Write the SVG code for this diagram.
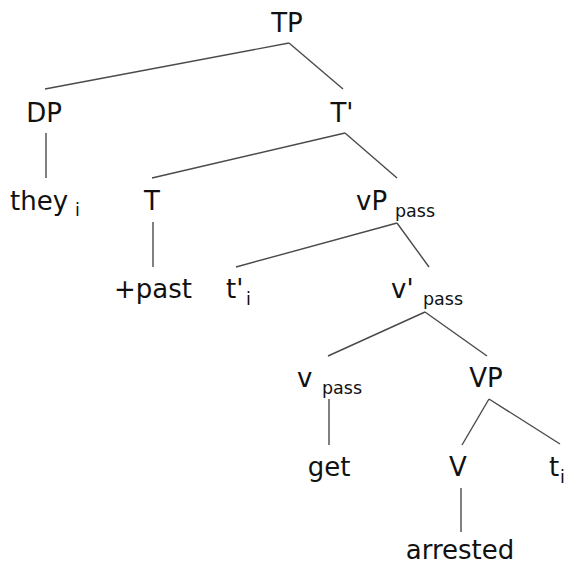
<svg xmlns="http://www.w3.org/2000/svg" width="567" height="566" viewBox="0 0 567 566">
<style>
text{font-family:"DejaVu Sans",Verdana,sans-serif;font-size:26px;fill:#111}
text.m{text-anchor:middle}
text.s{font-size:17.5px}
#edges line{stroke:#4a4a4a;stroke-width:1.4}
</style>
<rect width="567" height="566" fill="#fff"/>
<g id="edges">
<line x1="289" y1="43" x2="45" y2="89"/>
<line x1="289" y1="43" x2="343" y2="89"/>
<line x1="46" y1="133" x2="46" y2="178"/>
<line x1="345" y1="133" x2="152" y2="178"/>
<line x1="345" y1="133" x2="397" y2="178"/>
<line x1="153" y1="222" x2="153" y2="267"/>
<line x1="397" y1="223" x2="236" y2="267"/>
<line x1="397" y1="223" x2="429" y2="267"/>
<line x1="425" y1="312" x2="328" y2="356"/>
<line x1="425" y1="312" x2="487" y2="356"/>
<line x1="329" y1="399" x2="329" y2="445"/>
<line x1="489" y1="399" x2="462" y2="445"/>
<line x1="489" y1="399" x2="560" y2="444"/>
<line x1="461" y1="488" x2="461" y2="532"/>
</g>
<g id="TP"><text class="m" x="287" y="32">TP</text></g>
<g id="DP"><text class="m" x="44" y="122">DP</text></g>
<g id="Tbar"><text class="m" x="342" y="122">T'</text></g>
<g id="they"><text x="10" y="210">they</text><text class="s" x="75" y="216">i</text></g>
<g id="T"><text class="m" x="152" y="210">T</text></g>
<g id="vPpass"><text x="356" y="210">vP</text><text class="s" x="395" y="217">pass</text></g>
<g id="past"><text class="m" x="153" y="298">+past</text></g>
<g id="tprime"><text x="226" y="298">t'</text><text class="s" x="246" y="305">i</text></g>
<g id="vbarpass"><text x="391" y="298">v'</text><text class="s" x="423" y="305">pass</text></g>
<g id="vpass"><text x="297" y="387">v</text><text class="s" x="322" y="394">pass</text></g>
<g id="VP"><text class="m" x="486" y="387">VP</text></g>
<g id="get"><text class="m" x="329" y="476">get</text></g>
<g id="V"><text class="m" x="458" y="476">V</text></g>
<g id="ti"><text x="549" y="476">t</text><text class="s" x="560" y="483">i</text></g>
<g id="arrested"><text class="m" x="460" y="559">arrested</text></g>
</svg>
